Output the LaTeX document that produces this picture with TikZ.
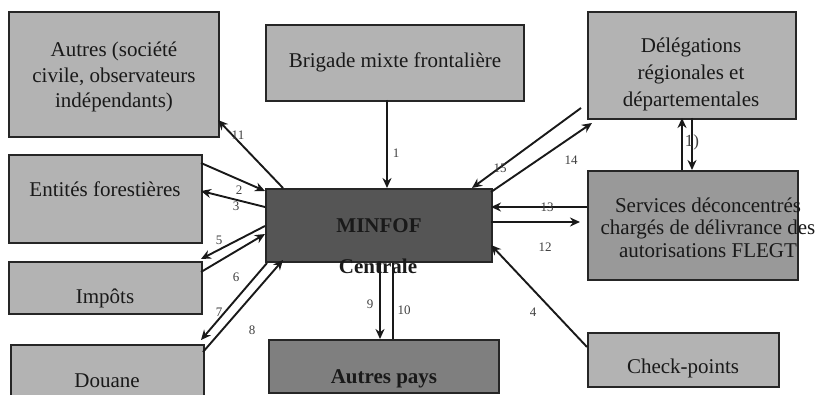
\documentclass[tikz,border=0pt]{standalone}
\usepackage{fontspec}
\setmainfont{Liberation Serif}
\usetikzlibrary{arrows.meta,calc}
\definecolor{boxlight}{HTML}{B3B3B3}
\definecolor{boxdark}{HTML}{555555}
\definecolor{boxmid}{HTML}{7F7F7F}
\definecolor{boxserv}{HTML}{999999}
\definecolor{edge}{HTML}{262626}
\definecolor{numcol}{HTML}{404040}
\tikzset{
  box/.style={draw=edge, line width=1.7pt, inner sep=0pt, anchor=north west},
  txt/.style={font=\fontsize{21}{26}\selectfont, text=black!90, align=center, anchor=base, inner sep=0pt},
  btxt/.style={txt, font=\fontsize{21}{26}\selectfont\bfseries},
  conn/.style={line width=1.9pt, draw=black!90, -{Stealth[length=10pt,width=9pt]}},
  plain/.style={line width=1.5pt, draw=black!90},
  num/.style={font=\fontsize{13}{14}\selectfont, text=numcol, inner sep=0pt}
}
\begin{document}
\begin{tikzpicture}[x=1pt,y=-1pt]
\clip (0,0) rectangle (821,395);
\fill[white] (0,0) rectangle (821,395);
% boxes
\node[box, fill=boxlight, minimum width=210, minimum height=125] (autres) at (8,11) {};
\node[box, fill=boxlight, minimum width=258, minimum height=76] (brig) at (265,24) {};
\node[box, fill=boxlight, minimum width=208, minimum height=107] (deleg) at (587,11) {};
\node[box, fill=boxlight, minimum width=193, minimum height=88] (entites) at (8,154) {};
\node[box, fill=boxlight, minimum width=193, minimum height=52] (impots) at (8,261) {};
\node[box, fill=boxlight, minimum width=193, minimum height=70] (douane) at (10,344) {};
\node[box, fill=boxdark, minimum width=226, minimum height=73] (minfof) at (265,188) {};
\node[box, fill=boxmid, minimum width=230, minimum height=53] (apays) at (268,339) {};
\node[box, fill=boxserv, minimum width=210, minimum height=109] (services) at (587,170) {};
\node[box, fill=boxlight, minimum width=191, minimum height=54] (check) at (587,332) {};
% texts (base anchor = last line baseline)
\node[txt, font=\fontsize{21}{25.5}\selectfont] (autrest) at (114,108) {Autres (société\\civile, observateurs\\indépendants)};
\node[txt] (brigt) at (395,68) {Brigade mixte frontalière};
\node[txt, font=\fontsize{21}{27}\selectfont] (delegt) at (691,107) {Délégations\\régionales et\\départementales};
\node[txt] (entitest) at (105,197) {Entités forestières};
\node[txt] (impotst) at (105,303) {Impôts};
\node[txt] (douanet) at (107,387) {Douane};
\node[btxt] (minfoft) at (379,233) {MINFOF};
\node[txt, font=\fontsize{21}{22}\selectfont] (servicest) at (708,257) {Services déconcentrés\\chargés de délivrance des\\autorisations FLEGT};
\node[txt] (checkt) at (683,373) {Check-points};
\node[btxt] (apayst) at (384,383) {Autres pays};
% connectors
\draw[conn] ($(brig.north west)+(122,76)$) -- ($(minfof.north west)+(122,0)$);
\draw[conn] ($(minfof.north west)+(18,0)$) -- ($(autres.north west)+(210,109)$);
\draw[conn] ($(entites.north west)+(193,9)$) -- ($(minfof.north west)+(0,3)$);
\draw[conn] ($(minfof.north west)+(0,19)$) -- ($(entites.north west)+(193,37)$);
\draw[conn] ($(minfof.north west)+(0,38)$) -- ($(impots.north west)+(193,-2)$);
\draw[conn] ($(impots.north west)+(193,11)$) -- ($(minfof.north west)+(0,46)$);
\draw[conn] ($(minfof.north west)+(2,75)$) -- ($(douane.north west)+(191,-4)$);
\draw[conn] ($(douane.north west)+(193,8)$) -- ($(minfof.north west)+(18,72)$);
\draw[conn] ($(minfof.north west)+(115,73)$) -- ($(apays.north west)+(112,0)$);
\draw[plain] ($(apays.north west)+(125,0)$) -- ($(minfof.north west)+(128,75)$);
\draw[conn] ($(deleg.north west)+(-6,97)$) -- ($(minfof.north west)+(207,0)$);
\draw[conn] ($(minfof.north west)+(226,4)$) -- ($(deleg.north west)+(5,112)$);
\draw[conn] ($(services.north west)+(0,37)$) -- ($(minfof.north west)+(226,19)$);
\draw[conn] ($(minfof.north west)+(226,34)$) -- ($(services.north west)+(-7,52)$);
\draw[conn] ($(check.north west)+(0,15)$) -- ($(minfof.north west)+(226,57)$);
\draw[conn] ($(services.north west)+(95,0)$) -- ($(deleg.north west)+(95,107)$);
\draw[conn] ($(deleg.north west)+(105,107)$) -- ($(services.north west)+(105,0)$);
% Centrale drawn over line 10
\node[btxt] (centralet) at (378,273) {Centrale};
% numbers
\node[num] (n1) at (396,153) {1};
\node[num] (n11) at (238,135) {11};
\node[num] (n2) at (239,190) {2};
\node[num] (n3) at (236,206) {3};
\node[num] (n5) at (219,240) {5};
\node[num] (n6) at (236,277) {6};
\node[num] (n7) at (219,312) {7};
\node[num] (n8) at (252,330) {8};
\node[num] (n9) at (370,304) {9};
\node[num] (n10) at (404,310) {10};
\node[num] (n15) at (500,168) {15};
\node[num] (n14) at (571,160) {14};
\node[num] (n13) at (547,207) {13};
\node[num] (n12) at (545,247) {12};
\node[num] (n4) at (533,312) {4};
\node[num, font=\fontsize{17}{18}\selectfont] (n16) at (692,142) {1)};
\end{tikzpicture}
\end{document}
